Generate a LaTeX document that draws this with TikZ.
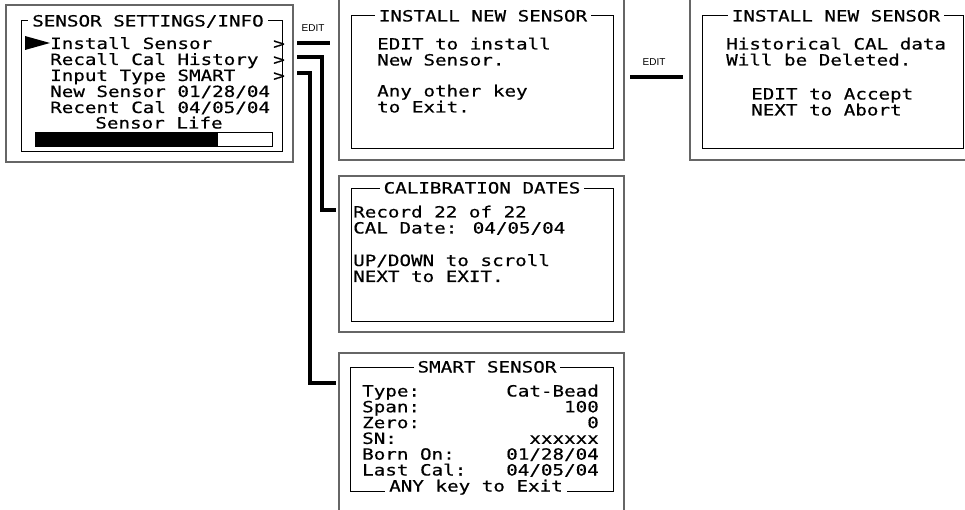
\documentclass[tikz,border=0pt]{standalone}
\usepackage{fontspec}
\newfontfamily\lcdfam[FakeStretch=1.24,FakeBold=0.5]{DejaVu Sans Mono}
\newfontfamily\labfam{Liberation Sans}
\newcommand\lcdfont{\lcdfam\fontsize{15.5}{16}\selectfont}
\begin{document}
\begin{tikzpicture}[x=1pt,y=-1pt,
  outerframe/.style={draw=black!60, line width=1.5pt},
  innerframe/.style={draw=black, line width=0.9pt},
  lcd/.style={font=\lcdfont, inner sep=0pt, anchor=base west, text height=11pt, text depth=2.5pt},
  lcdr/.style={font=\lcdfont, inner sep=0pt, anchor=base east, text height=11pt, text depth=2.5pt},
  ttl/.style={font=\lcdfont, fill=white, inner xsep=4pt, inner ysep=1pt, anchor=base, text height=11pt, text depth=2.5pt},
  conn/.style={draw=black, line width=4pt, line join=miter},
  keylab/.style={font=\labfam\fontsize{10}{12}\selectfont, inner sep=0pt}]
\useasboundingbox (0,0) rectangle (965,510);
\clip (0,0) rectangle (965,510);

% ---------- Panel 1: SENSOR SETTINGS/INFO ----------
\draw[outerframe] (6,5) rectangle (293,162);
\draw[innerframe] (21,20) rectangle (282,151);
\node[ttl] (p1t) at (148,26.5) {SENSOR SETTINGS/INFO};
\fill (25,36) -- (25,50) -- (50,43) -- cycle;
\node[lcd] (p1a) at (50,49) {Install Sensor};
\node[lcd] (p1b) at (50,65) {Recall Cal History};
\node[lcd] (p1c) at (50,81) {Input Type SMART};
\node[lcd] (p1d) at (50,97) {New Sensor 01/28/04};
\node[lcd] (p1e) at (50,113) {Recent Cal 04/05/04};
\node[lcd] (p1ga) at (273,49) {>};
\node[lcd] (p1gb) at (273,65) {>};
\node[lcd] (p1gc) at (273,81) {>};
\node[font=\lcdfont, inner sep=0pt, anchor=base, text height=11pt, text depth=2.5pt] (p1f) at (159,128.5) {Sensor Life};
\draw[black, line width=1pt] (35,133) rectangle (272,147);
\fill[black] (35,133) rectangle (218,147);

% ---------- Panel 2: INSTALL NEW SENSOR ----------
\draw[outerframe] (339,-5) -- (339,160) -- (624,160) -- (624,-5);
\draw[innerframe] (351,15) rectangle (613,148);
\node[ttl] (p2t) at (483,21.5) {INSTALL NEW SENSOR};
\node[lcd] (p2a) at (377,49.5) {EDIT to install};
\node[lcd] (p2b) at (377,65.5) {New Sensor.};
\node[lcd] (p2c) at (377,96.5) {Any other key};
\node[lcd] (p2d) at (377,112.5) {to Exit.};

% ---------- Panel 3: INSTALL NEW SENSOR (confirm) ----------
\draw[outerframe] (690,-5) -- (690,160) -- (975,160);
\draw[innerframe] (702,15) -- (963,15) -- (963,148) -- (702,148) -- cycle;
\node[ttl] (p3t) at (836,21.5) {INSTALL NEW SENSOR};
\node[lcd] (p3a) at (726,49.5) {Historical CAL data};
\node[lcd] (p3b) at (726,65.5) {Will be Deleted.};
\node[lcd] (p3c) at (751,99.5) {EDIT to Accept};
\node[lcd] (p3d) at (751,115.5) {NEXT to Abort};

% ---------- Panel 4: CALIBRATION DATES ----------
\draw[outerframe] (339,176) rectangle (624,332);
\draw[innerframe] (351,188) rectangle (613,321);
\node[ttl] (p4t) at (482,193.5) {CALIBRATION DATES};
\node[lcd] (p4a) at (353,217.5) {Record 22 of 22};
\node[lcd] (p4b) at (353,233.5) {CAL Date: 04/05/04};
\node[lcd] (p4c) at (353,266) {UP/DOWN to scroll};
\node[lcd] (p4d) at (353,282) {NEXT to EXIT.};

% ---------- Panel 5: SMART SENSOR ----------
\draw[outerframe] (339,515) -- (339,353) -- (624,353) -- (624,515);
\draw[innerframe] (350,367) rectangle (613,491);
\node[ttl] (p5t) at (487,372.5) {SMART SENSOR};
\node[lcd] (p5la) at (362,396.5) {Type:};
\node[lcd] (p5lb) at (362,412.3) {Span:};
\node[lcd] (p5lc) at (362,428.1) {Zero:};
\node[lcd] (p5ld) at (362,443.9) {SN:};
\node[lcd] (p5le) at (362,459.7) {Born On:};
\node[lcd] (p5lf) at (362,475.5) {Last Cal:};
\node[lcdr] (p5va) at (599,396.5) {Cat-Bead};
\node[lcdr] (p5vb) at (599,412.3) {100};
\node[lcdr] (p5vc) at (599,428.1) {0};
\node[lcdr] (p5vd) at (599,443.9) {xxxxxx};
\node[lcdr] (p5ve) at (599,459.7) {01/28/04};
\node[lcdr] (p5vf) at (599,475.5) {04/05/04};
\node[ttl] (p5x) at (476,491.5) {ANY key to Exit};

% ---------- Connectors ----------
\coordinate (c1s) at (297,43);
\coordinate (c1e) at (330,43);
\coordinate (c2s) at (297,57);
\coordinate (c2e) at (336,210.5);
\coordinate (c3s) at (297,73.5);
\coordinate (c3e) at (336,383);
\coordinate (c4s) at (630,77);
\coordinate (c4e) at (683,77);
\draw[conn] (c1s) -- (c1e);
\draw[conn] (c2s) -| (322,210.5) -- (c2e);
\draw[conn] (c3s) -| (310,383) -- (c3e);
\draw[conn] (c4s) -- (c4e);
\node[keylab] (k1) at (313,28) {EDIT};
\node[keylab] (k2) at (654,62) {EDIT};
\end{tikzpicture}
\end{document}
